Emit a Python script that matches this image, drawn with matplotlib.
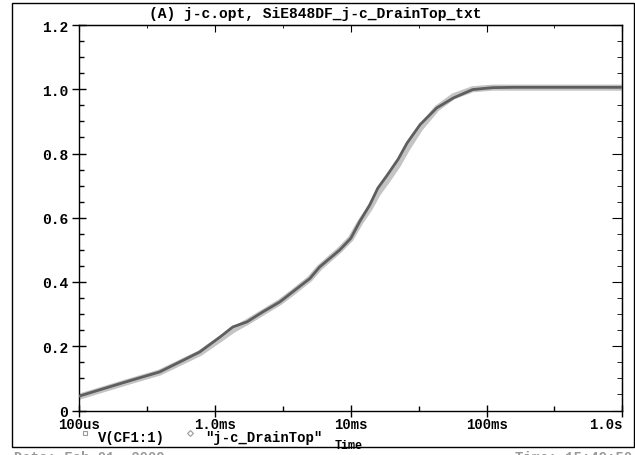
import matplotlib
matplotlib.use('Agg')
import matplotlib.pyplot as plt
from matplotlib.patches import Rectangle
from matplotlib.lines import Line2D
from matplotlib.ticker import FixedLocator, NullFormatter
import numpy as np

plt.rcParams['font.family'] = 'Liberation Mono'
plt.rcParams['font.weight'] = 'bold'
plt.rcParams['font.size'] = 10

# data (time in seconds)
t_sim = [1.0e-4, 2.2e-4, 3.9e-4, 5.8e-4, 7.7e-4, 1.09e-3, 1.35e-3, 1.72e-3, 2.25e-3,
         3.0e-3, 3.75e-3, 5.0e-3, 5.9e-3, 8.3e-3, 1.0e-2, 1.17e-2, 1.38e-2, 1.58e-2,
         1.85e-2, 2.23e-2, 2.6e-2, 3.24e-2, 4.3e-2, 5.7e-2, 7.9e-2, 0.111, 0.16, 1.0]
v_sim = [0.045, 0.089, 0.120, 0.156, 0.182, 0.229, 0.260, 0.276, 0.307,
         0.338, 0.370, 0.411, 0.447, 0.500, 0.536, 0.590, 0.640, 0.692,
         0.732, 0.782, 0.833, 0.890, 0.942, 0.973, 0.999, 1.005, 1.006, 1.006]

t_meas = [1.0e-4, 2.2e-4, 3.9e-4, 5.8e-4, 7.7e-4, 1.09e-3, 1.35e-3, 1.72e-3, 2.25e-3,
          3.0e-3, 3.75e-3, 5.0e-3, 5.9e-3, 8.3e-3, 1.0e-2, 1.17e-2, 1.38e-2, 1.58e-2,
          1.85e-2, 2.23e-2, 2.6e-2, 3.24e-2, 4.3e-2, 5.7e-2, 7.9e-2, 0.111, 1.0]
v_meas = [0.043, 0.087, 0.118, 0.153, 0.178, 0.222, 0.250, 0.275, 0.305,
          0.337, 0.368, 0.410, 0.445, 0.500, 0.535, 0.585, 0.630, 0.675,
          0.715, 0.765, 0.815, 0.878, 0.940, 0.978, 1.000, 1.005, 1.005]

xticks = [1e-4, 1e-3, 1e-2, 1e-1, 1.0]
xlabels = ['100us', '1.0ms', '10ms', '100ms', '1.0s']
xminor = [10 ** (d + 0.5) for d in range(-4, 0)]
yticks = [0, 0.2, 0.4, 0.6, 0.8, 1.0, 1.2]
ylabels = ['0', '0.2', '0.4', '0.6', '0.8', '1.0', '1.2']
yminor = np.arange(0.05, 1.2, 0.05)

W, H = 635, 456
fig = plt.figure(figsize=(W / 100, H / 100), dpi=100)
fig.patch.set_facecolor('white')

# outer frame
fig.patches.append(Rectangle((12 / W, 1 - 448 / H), 622 / W, 444 / H,
                             transform=fig.transFigure, fill=False,
                             edgecolor='black', lw=1.0))

ax = fig.add_axes([79.3 / W, 1 - 411.5 / H, 543 / W, 385.5 / H])
ax.plot(t_meas, v_meas, color='#c4c4c4', lw=4.4, zorder=2)
ax.plot(t_sim, v_sim, color='#5e5e5e', lw=2.0, zorder=3)

ax.set_xscale('log')
ax.set_xlim(1e-4, 1.0)
ax.set_ylim(0, 1.2)

ax.xaxis.set_major_locator(FixedLocator(xticks))
ax.xaxis.set_minor_locator(FixedLocator(xminor))
ax.xaxis.set_minor_formatter(NullFormatter())
ax.set_xticklabels(xlabels, fontsize=10, fontweight='bold')
ax.set_yticks(yticks)
ax.set_yticklabels(ylabels, fontsize=10.5, fontweight='bold')
ax.yaxis.set_minor_locator(FixedLocator(yminor))

ax.tick_params(axis='x', which='major', direction='inout', length=8, width=1.0, pad=1)
ax.tick_params(axis='y', which='major', direction='inout', length=10, width=1.0, pad=3)
ax.tick_params(which='minor', direction='in', length=3.8, width=1.0)
ax.tick_params(axis='both', which='both', top=False, right=False)
ax.get_xticklabels()[-1].set_ha('right')

# right and top ticks pointing inward
sy = ax.secondary_yaxis('right')
sy.set_yticks(yticks)
sy.yaxis.set_minor_locator(FixedLocator(yminor))
sy.tick_params(which='major', direction='in', length=7, labelright=False)
sy.tick_params(which='minor', direction='in', length=3.8)
sx = ax.secondary_xaxis('top')
sx.xaxis.set_major_locator(FixedLocator(xticks))
sx.xaxis.set_minor_locator(FixedLocator(xminor))
sx.xaxis.set_minor_formatter(NullFormatter())
sx.tick_params(which='major', direction='in', length=5, labeltop=False)
sx.tick_params(which='minor', direction='in', length=2.5)

for s in ax.spines.values():
    s.set_linewidth(1.0)

# title
fig.text(315 / W, 1 - 14 / H, '(A) j-c.opt, SiE848DF_j-c_DrainTop_txt',
         ha='center', va='center', fontsize=10.5, fontweight='bold')

# legend
fig.add_artist(Line2D([85 / W], [1 - 434 / H], transform=fig.transFigure,
                      marker='s', ms=3.5, mfc='white', mec='#999999', mew=0.8, ls='none'))
fig.text(98 / W, 1 - 438 / H, 'V(CF1:1)', ha='left', va='center', fontsize=10,
         fontweight='bold')
fig.add_artist(Line2D([190 / W], [1 - 434 / H], transform=fig.transFigure,
                      marker='D', ms=3, mfc='white', mec='#999999', mew=0.8, ls='none'))
fig.text(205 / W, 1 - 438 / H, '"j-c_DrainTop"', ha='left', va='center',
         fontsize=10, fontweight='bold')
fig.text(349 / W, 1 - 446 / H, 'Time', ha='center', va='center', fontsize=8.5,
         fontweight='bold')

# footer, cut off by the bottom edge
fig.text(14 / W, 1 - 451 / H, 'Date: Feb 01, 2009', ha='left', va='top',
         fontsize=10, color='#999999')
fig.text(632 / W, 1 - 451 / H, 'Time: 15:49:50', ha='right', va='top',
         fontsize=10, color='#999999')

fig.savefig('out.png', dpi=100)
